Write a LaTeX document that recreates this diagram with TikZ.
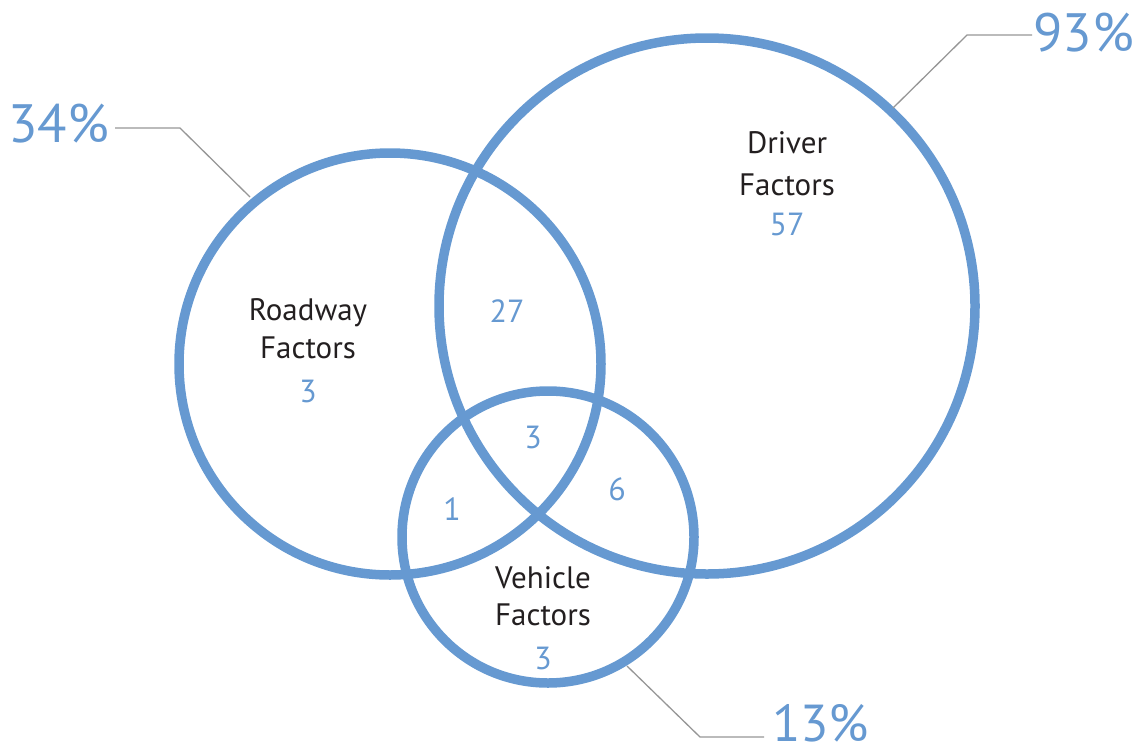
\documentclass[tikz,border=0pt]{standalone}
\usepackage{fontspec}
\setmainfont{PT Sans}
\definecolor{vblue}{RGB}{102,153,209}
\definecolor{vtext}{RGB}{35,31,32}
\definecolor{vgray}{RGB}{150,150,150}
\begin{document}
\begin{tikzpicture}[x=1pt,y=-1pt,
  ring/.style={draw=vblue,line width=9.5pt},
  lbl/.style={anchor=base,inner sep=0pt,text=vtext,font=\fontsize{31}{31}\selectfont},
  num/.style={anchor=base,inner sep=0pt,text=vblue,font=\fontsize{32}{32}\selectfont},
  pct/.style={inner sep=0pt,text depth=0pt,text=vblue,font=\fontsize{54}{54}\selectfont},
  leader/.style={draw=vgray,line width=1.3pt}]
\useasboundingbox (0,0) rectangle (1137,755);
\draw[ring] (390,364) circle[radius=211];
\draw[ring] (707,306) circle[radius=268];
\draw[ring] (548,537) circle[radius=146];
% texts
\node[lbl] (rw1) at (308,320) {Roadway};
\node[lbl] (rw2) at (308,358) {Factors};
\node[num] (rw3) at (308,402) {3};
\node[lbl] (dr1) at (787,153) {Driver};
\node[lbl] (dr2) at (787,195) {Factors};
\node[num] (dr3) at (787,235) {57};
\node[lbl] (ve1) at (543,588) {Vehicle};
\node[lbl] (ve2) at (543,625) {Factors};
\node[num] (ve3) at (543,669) {3};
\node[num] (n27) at (507,322) {27};
\node[num] (n3) at (533,448) {3};
\node[num] (n1) at (452,520) {1};
\node[num] (n6) at (617,500) {6};
% percentages
\node[pct,anchor=base west] (p34) at (8,142) {34\%};
\node[pct,anchor=base east] (p93) at (1134,51) {93\%};
\node[pct,anchor=base west,font=\fontsize{52}{52}\selectfont] (p13) at (772,741) {13\%};
% leaders
\coordinate (a1) at (115,128);
\coordinate (a2) at (180,128);
\coordinate (a3) at (250,197);
\draw[leader] (a1) -- (a2) -- (a3);
\coordinate (b1) at (1032,35);
\coordinate (b2) at (967,35);
\coordinate (b3) at (893,108);
\draw[leader] (b1) -- (b2) -- (b3);
\coordinate (c1) at (627,666);
\coordinate (c2) at (700,737);
\coordinate (c3) at (764,737);
\draw[leader] (c1) -- (c2) -- (c3);
\end{tikzpicture}
\end{document}
